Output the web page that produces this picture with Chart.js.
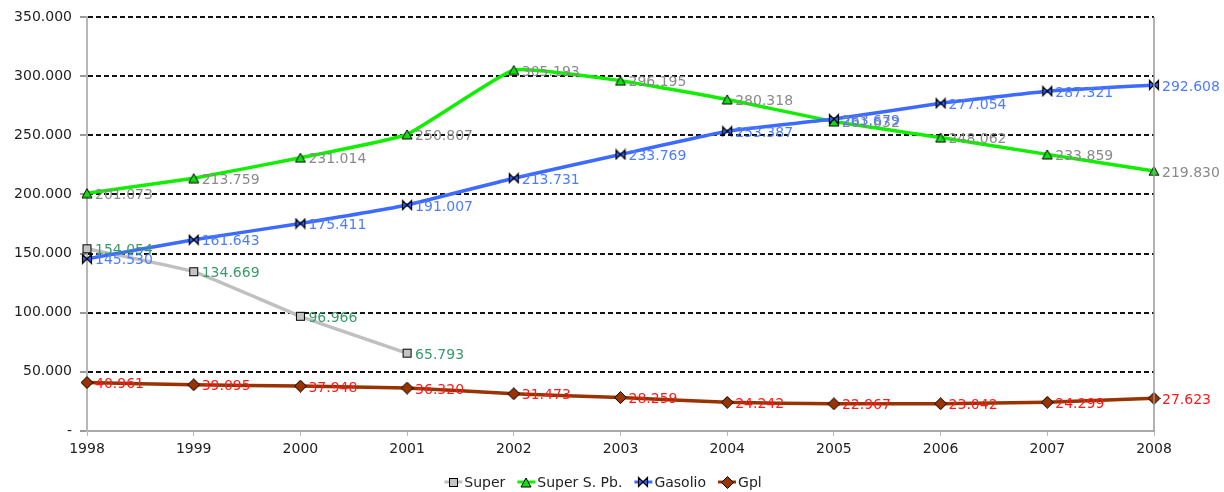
<!DOCTYPE html>
<html><head><meta charset="utf-8">
<script src="https://cdn.jsdelivr.net/npm/chart.js@4.4.1/dist/chart.umd.min.js"></script>
<style>html,body{margin:0;padding:0;background:#fff}#wrap{width:1224px;height:492px}</style>
</head><body><div id="wrap"><canvas id="c" width="1224" height="492"></canvas></div>
<script>
const years = ['1998','1999','2000','2001','2002','2003','2004','2005','2006','2007','2008'];
const superVals = [154054, 134669, 96966, 65793, null, null, null, null, null, null, null];
const superSPbVals = [201073, 213759, 231014, 250807, 305193, 296195, 280318, 261632, 248062, 233859, 219830];
const gasolioVals = [145530, 161643, 175411, 191007, 213731, 233769, 253387, 263679, 277054, 287321, 292608];
const gplVals = [40961, 39095, 37948, 36320, 31473, 28259, 24242, 22967, 23042, 24299, 27623];
const seriesNames = ['Super', 'Super S. Pb.', 'Gasolio', 'Gpl'];

const FONT = '"DejaVu Sans", Verdana, sans-serif';
function fmt(v){ return Math.round(v).toString().replace(/\B(?=(\d{3})+(?!\d))/g, '.'); }

function mk(w, h, fn){ const c = document.createElement('canvas'); c.width = w; c.height = h; const g = c.getContext('2d'); fn(g); return c; }
function sq(g, ox, oy){ g.fillStyle = '#c4c4c4'; g.strokeStyle = '#000'; g.lineWidth = 1; g.fillRect(ox+1.5, oy+1.5, 8, 8); g.strokeRect(ox+1.5, oy+1.5, 8, 8); }
function tri(g, ox, oy){ g.fillStyle = '#11dd11'; g.strokeStyle = '#000'; g.lineWidth = 1; g.beginPath(); g.moveTo(ox+6, oy+1); g.lineTo(ox+11, oy+10); g.lineTo(ox+1, oy+10); g.closePath(); g.fill(); g.stroke(); }
function bow(g, ox, oy){ g.fillStyle = '#3366ff'; g.strokeStyle = '#000'; g.lineWidth = 1.2; g.beginPath(); g.moveTo(ox+1.5, oy+1.5); g.lineTo(ox+6, oy+6); g.lineTo(ox+1.5, oy+10.5); g.closePath(); g.moveTo(ox+10.5, oy+1.5); g.lineTo(ox+6, oy+6); g.lineTo(ox+10.5, oy+10.5); g.closePath(); g.fill(); g.stroke(); }
function dia(g, ox, oy){ g.fillStyle = '#993300'; g.strokeStyle = '#000'; g.lineWidth = 1; g.beginPath(); g.moveTo(ox+6.5, oy+0.5); g.lineTo(ox+12.5, oy+6.5); g.lineTo(ox+6.5, oy+12.5); g.lineTo(ox+0.5, oy+6.5); g.closePath(); g.fill(); g.stroke(); }

const mSq = mk(11, 11, g => sq(g, 0, 0));
const mTri = mk(12, 11, g => tri(g, 0, 0));
const mBow = mk(12, 12, g => bow(g, 0, 0));
const mDia = mk(13, 13, g => dia(g, 0, 0));

const lineColors = ['#c0c0c0', '#11ee00', '#3d6bff', '#993300'];
const labelColors = ['#3a9a6c', '#8a8a8a', '#4d7cff', '#ff1a1a'];
const markers = [mSq, mTri, mBow, mDia];

const labelsPlugin = {
  id: 'vlabels',
  afterDatasetsDraw(chart){
    const ctx = chart.ctx;
    ctx.save();
    ctx.font = '14px ' + FONT;
    ctx.textBaseline = 'middle';
    ctx.textAlign = 'left';
    chart.data.datasets.forEach((ds, i) => {
      const meta = chart.getDatasetMeta(i);
      meta.data.forEach((pt, j) => {
        const v = ds.data[j];
        if (v === null || v === undefined) return;
        ctx.fillStyle = labelColors[i];
        ctx.fillText(fmt(v), pt.x + 8, pt.y + 2);
      });
    });
    ctx.restore();
  },
  afterDraw(chart){
    const ctx = chart.ctx, a = chart.chartArea;
    ctx.save();
    ctx.strokeStyle = '#999';
    ctx.lineWidth = 1.5;
    ctx.beginPath(); ctx.moveTo(a.right, a.top); ctx.lineTo(a.right, a.bottom); ctx.stroke();
    // legend
    ctx.font = '14px ' + FONT;
    ctx.textBaseline = 'middle';
    const iconW = 18, gapT = 2, gapI = 12;
    let total = 0;
    const widths = seriesNames.map(n => ctx.measureText(n).width);
    widths.forEach(w => total += iconW + gapT + w);
    total += gapI * (seriesNames.length - 1);
    let x = 603 - total / 2;
    const y = 483;
    seriesNames.forEach((n, i) => {
      ctx.strokeStyle = lineColors[i]; ctx.lineWidth = 3;
      ctx.beginPath(); ctx.moveTo(x, y - 1); ctx.lineTo(x + iconW, y - 1); ctx.stroke();
      const m = markers[i];
      ctx.drawImage(m, Math.round(x + iconW / 2 - m.width / 2), Math.round(y - 1 - m.height / 2));
      ctx.fillStyle = '#222';
      ctx.fillText(n, x + iconW + gapT, y);
      x += iconW + gapT + widths[i] + gapI;
    });
    ctx.restore();
  }
};

const allVals = [superVals, superSPbVals, gasolioVals, gplVals];
const orders = [2, 1, 0, 3];
const datasets = allVals.map((vals, i) => ({
  label: seriesNames[i],
  data: vals,
  borderColor: lineColors[i],
  backgroundColor: lineColors[i],
  borderWidth: 3.5,
  pointStyle: markers[i],
  pointRadius: 6,
  tension: 0.12,
  spanGaps: false,
  order: orders[i]
}));

new Chart(document.getElementById('c'), {
  type: 'line',
  data: { labels: years, datasets },
  plugins: [labelsPlugin],
  options: {
    responsive: false,
    animation: false,
    devicePixelRatio: 1,
    layout: { padding: { top: 17, right: 70, bottom: 31, left: 0 } },
    plugins: { legend: { display: false }, tooltip: { enabled: false } },
    scales: {
      x: {
        offset: false,
        afterFit: s => { s.height = 30; },
        grid: { display: true, drawOnChartArea: false, drawTicks: true, tickLength: 5, color: '#bbb', tickColor: '#bbb' },
        border: { display: true, color: '#aaa', width: 2 },
        ticks: { color: '#222', font: { family: FONT, size: 14 }, padding: 5, maxRotation: 0 }
      },
      y: {
        min: 0, max: 350000,
        afterFit: s => { s.width = 87; },
        grid: {
          color: c => (c.tick && c.tick.value === 0) ? '#aaa' : '#111',
          lineWidth: 2,
          tickLength: 7,
          tickColor: '#999',
          tickBorderDash: []
        },
        border: { display: true, color: '#b8b8b8', width: 2, dash: [5, 3] },
        ticks: {
          stepSize: 50000,
          color: '#222',
          font: { family: FONT, size: 14 },
          padding: 8,
          callback: v => v === 0 ? '-' : fmt(v)
        }
      }
    }
  }
});
</script>
</body></html>
